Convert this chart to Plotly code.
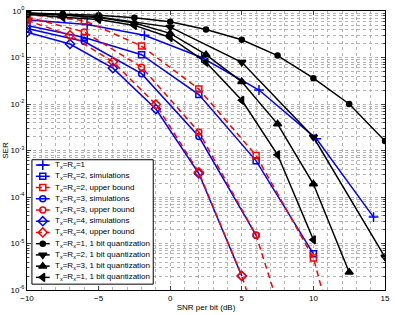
import plotly.graph_objects as go

# ---------------- data (SER vs SNR per bit, dB) ----------------
x_t1 = [-10, -5.8, -1.8, 2.2, 6.2, 10.2, 14.2]
ser_t1 = [0.65, 0.51, 0.30, 0.10, 2.0e-2, 1.8e-3, 3.7e-5]

x_t2 = [-10, -6, -2, 2, 6, 10]
ser_t2_sim = [0.49, 0.27, 0.115, 1.6e-2, 6.0e-4, 6.0e-6]
x_t2b = [-10, -6, -2, 2, 6, 10, 14]
ser_t2_bound = [0.85, 0.62, 0.176, 2.1e-2, 7.8e-4, 4.9e-6, 1.3e-10]

x_t3 = [-10, -6, -2, 2, 6]
ser_t3_sim = [0.42, 0.22, 4.5e-2, 2.0e-3, 1.5e-5]
x_t3b = [-10, -6, -2, 2, 6, 10]
ser_t3_bound = [0.74, 0.355, 6.2e-2, 2.5e-3, 1.5e-5, 1.9e-9]

x_t4 = [-10, -7, -4, -1, 2, 5]
ser_t4_sim = [0.35, 0.195, 5.9e-2, 7.8e-3, 3.2e-4, 2.0e-6]
x_t4b = [-10, -7, -4, -1, 2, 5, 8]
ser_t4_bound = [0.63, 0.30, 8.1e-2, 9.8e-3, 3.4e-4, 2.0e-6, 3.2e-9]

x_q1 = [-10, -7.5, -5, -2.5, 0, 2.5, 5, 7.5, 10, 12.5, 15]
ser_q1 = [0.91, 0.87, 0.81, 0.72, 0.59, 0.40, 0.24, 0.11, 3.6e-2, 1.0e-2, 1.6e-3]

x_q2 = [-10, -5, 0, 5, 10, 15]
ser_q2 = [0.89, 0.74, 0.45, 7.9e-2, 1.95e-3, 5.1e-6]

x_q3 = [-10, -7.5, -5, -2.5, 0, 2.5, 5, 7.5, 10, 12.5]
ser_q3 = [0.89, 0.83, 0.72, 0.55, 0.33, 0.115, 3.0e-2, 3.7e-3, 1.9e-4, 2.4e-6]

x_q4 = [-10, -7.5, -5, -2.5, 0, 2.5, 5, 7.5, 10]
ser_q4 = [0.85, 0.73, 0.66, 0.49, 0.27, 7.9e-2, 1.2e-2, 8.1e-4, 1.2e-5]

names = [
    "T<sub>x</sub>=R<sub>x</sub>=1",
    "T<sub>x</sub>=R<sub>x</sub>=2, simulations",
    "T<sub>x</sub>=R<sub>x</sub>=2, upper bound",
    "T<sub>x</sub>=R<sub>x</sub>=3, simulations",
    "T<sub>x</sub>=R<sub>x</sub>=3, upper bound",
    "T<sub>x</sub>=R<sub>x</sub>=4, simulations",
    "T<sub>x</sub>=R<sub>x</sub>=4, upper bound",
    "T<sub>x</sub>=R<sub>x</sub>=1, 1 bit quantization",
    "T<sub>x</sub>=R<sub>x</sub>=2, 1 bit quantization",
    "T<sub>x</sub>=R<sub>x</sub>=3, 1 bit quantization",
    "T<sub>x</sub>=R<sub>x</sub>=1, 1 bit quantization",
]

xticks = [-10, -5, 0, 5, 10, 15]
yticks = [1, 1e-1, 1e-2, 1e-3, 1e-4, 1e-5, 1e-6]
yticktext = ["10<sup>0</sup>", "10<sup>-1</sup>", "10<sup>-2</sup>", "10<sup>-3</sup>",
             "10<sup>-4</sup>", "10<sup>-5</sup>", "10<sup>-6</sup>"]

BLUE = "#0000FF"
RED = "#FF0000"
BLACK = "#000000"
DASH = "6px,4px"

series = [
    (x_t1, ser_t1, BLUE, "solid", "cross-thin-open", 7),
    (x_t2, ser_t2_sim, BLUE, "solid", "square-open", 6),
    (x_t2b, ser_t2_bound, RED, DASH, "square-open", 6),
    (x_t3, ser_t3_sim, BLUE, "solid", "circle-open", 6),
    (x_t3b, ser_t3_bound, RED, DASH, "circle-open", 6),
    (x_t4, ser_t4_sim, BLUE, "solid", "diamond-open", 7),
    (x_t4b, ser_t4_bound, RED, DASH, "diamond-open", 7),
    (x_q1, ser_q1, BLACK, "solid", "circle", 5),
    (x_q2, ser_q2, BLACK, "solid", "triangle-down", 7),
    (x_q3, ser_q3, BLACK, "solid", "triangle-up", 7),
    (x_q4, ser_q4, BLACK, "solid", "triangle-left", 7),
]

# ---------------- layout geometry (pixels) ----------------
W, H = 395, 315
ML, MR, MT, MB = 27, 5, 7, 21
PX0, PX1 = ML, W - MR          # plot area x extent
PY0, PY1 = MT, H - MB          # plot area y extent (top, bottom)

# legend box (pixel coords in the page)
LEG_L, LEG_R, LEG_T, LEG_B = 32, 155, 160, 288
LEG_ROW0, LEG_ROW_STEP = 165.5, 11.55
LEG_LINE_X0, LEG_LINE_X1, LEG_TEXT_X = 36, 50, 53

FONT = "Liberation Sans, Arial, sans-serif"
gridc = "#b4b4b4"

fig = go.Figure()
for (xs, ys, col, dash, sym, sz), nm in zip(series, names):
    fig.add_trace(go.Scatter(
        x=xs, y=ys, name=nm, mode="lines+markers",
        line=dict(color=col, width=1.5, dash=dash),
        marker=dict(symbol=sym, size=sz, color=col, line=dict(color=col, width=1.5)),
        showlegend=False,
    ))

# ---- custom compact legend drawn on an overlay pixel-space axis ----
fig.add_trace(go.Scatter(
    x=[LEG_L, LEG_R, LEG_R, LEG_L, LEG_L],
    y=[LEG_T, LEG_T, LEG_B, LEG_B, LEG_T],
    mode="lines", fill="toself", fillcolor="white",
    line=dict(color="black", width=1),
    xaxis="x2", yaxis="y2", showlegend=False, hoverinfo="skip",
))
annotations = []
for i, ((xs, ys, col, dash, sym, sz), nm) in enumerate(zip(series, names)):
    yy = LEG_ROW0 + LEG_ROW_STEP * i
    fig.add_trace(go.Scatter(
        x=[LEG_LINE_X0, LEG_LINE_X1], y=[yy, yy], mode="lines",
        line=dict(color=col, width=1.5, dash=dash),
        xaxis="x2", yaxis="y2", showlegend=False, hoverinfo="skip",
    ))
    fig.add_trace(go.Scatter(
        x=[(LEG_LINE_X0 + LEG_LINE_X1) / 2], y=[yy], mode="markers",
        marker=dict(symbol=sym, size=sz, color=col, line=dict(color=col, width=1.5)),
        xaxis="x2", yaxis="y2", showlegend=False, hoverinfo="skip",
    ))
    annotations.append(dict(
        x=(LEG_TEXT_X - PX0) / (PX1 - PX0), y=(PY1 - yy) / (PY1 - PY0),
        xref="paper", yref="paper", xanchor="left", yanchor="middle",
        text=nm, showarrow=False, font=dict(family=FONT, size=8, color="black"),
    ))

fig.update_layout(
    width=W, height=H,
    margin=dict(l=ML, r=MR, t=MT, b=MB),
    paper_bgcolor="white", plot_bgcolor="white",
    font=dict(family=FONT, size=8, color="black"),
    showlegend=False,
    annotations=annotations,
    xaxis=dict(
        range=[-10, 15], tickvals=xticks, ticks="inside", ticklen=4,
        showline=True, linecolor="black", linewidth=1, mirror="ticks",
        showgrid=True, gridcolor=gridc, griddash="dot", gridwidth=1,
        minor=dict(dtick=1, showgrid=True, gridcolor=gridc, griddash="dot", ticks=""),
        zeroline=False,
        title=dict(text="SNR per bit (dB)", standoff=2, font=dict(size=8)),
        tickfont=dict(size=8),
    ),
    yaxis=dict(
        type="log", range=[-6, 0], tickvals=yticks, ticktext=yticktext,
        ticks="inside", ticklen=4,
        showline=True, linecolor="black", linewidth=1, mirror="ticks",
        showgrid=True, gridcolor=gridc, griddash="dot", gridwidth=1,
        minor=dict(dtick="D1", showgrid=True, gridcolor=gridc, griddash="dot",
                   ticks="inside", ticklen=2),
        zeroline=False,
        title=dict(text="SER", standoff=0, font=dict(size=8)),
        tickfont=dict(size=8),
    ),
    xaxis2=dict(overlaying="x", range=[PX0, PX1], visible=False, fixedrange=True),
    yaxis2=dict(overlaying="y", range=[PY1, PY0], visible=False, fixedrange=True),
)

fig.write_html("out.html")
